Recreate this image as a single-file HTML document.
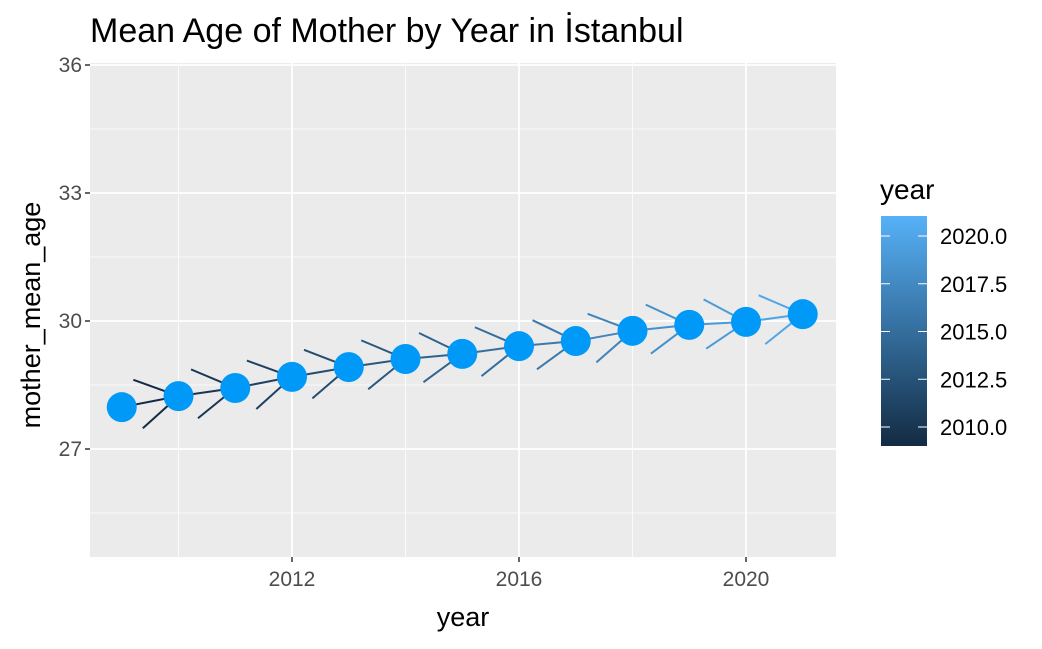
<!DOCTYPE html>
<html><head><meta charset="utf-8"><style>
body{margin:0;background:#fff;font-family:"Liberation Sans",Arial,sans-serif}
</style></head><body>
<svg id="c" width="1042" height="644" xmlns="http://www.w3.org/2000/svg">
<defs><linearGradient id="lg" x1="0" y1="1" x2="0" y2="0"><stop offset="0" stop-color="#132B43"/><stop offset="1" stop-color="#56B1F7"/></linearGradient></defs>
<text x="90" y="42" font-size="34" fill="#000">Mean Age of Mother by Year in İstanbul</text>
<rect x="90" y="63" width="746" height="494" fill="#EBEBEB"/>
<g id="grid"></g><g id="marks"></g><g id="axes"></g>
<text x="463" y="626" font-size="27" text-anchor="middle">year</text>
<text transform="translate(40,315) rotate(-90)" font-size="27" text-anchor="middle">mother_mean_age</text>
<text x="880" y="199" font-size="28">year</text>
<rect x="881" y="216" width="46" height="230" fill="url(#lg)"/>
<g id="leg"></g>
</svg>
<script>
const years=[2009,2010,2011,2012,2013,2014,2015,2016,2017,2018,2019,2020,2021];
const ages=[27.98,28.24,28.43,28.69,28.92,29.11,29.23,29.41,29.53,29.77,29.91,29.98,30.16];
const xTicks=[2012,2016,2020];
const xMinor=[2010,2014,2018];
const yTicks=[27,30,33,36];
const yMinor=[25.5,28.5,31.5,34.5];
const legTicks=[2010,2012.5,2015,2017.5,2020];
const NS="http://www.w3.org/2000/svg";
const L=90,R=836,T=63,B=557;
const X=v=>292+(v-2012)*56.75;
const Y=v=>321-(v-30)*42.667;
const C=v=>{const t=Math.max(0,Math.min(1,(v-2009)/12));const a=[0x13,0x2B,0x43],b=[0x56,0xB1,0xF7];return 'rgb('+a.map((c,i)=>Math.round(c+(b[i]-c)*t)).join(',')+')';};
function mk(p,tag,at){const e=document.createElementNS(NS,tag);for(const k in at)e.setAttribute(k,at[k]);document.getElementById(p).appendChild(e);return e;}
xMinor.forEach(v=>{const e=mk('grid','line',{x1:X(v),x2:X(v),y1:T,y2:B,stroke:'#fff','stroke-width':0.8});});
yMinor.forEach(v=>{const e=mk('grid','line',{x1:L,x2:R,y1:Y(v),y2:Y(v),stroke:'#fff','stroke-width':0.8});});
xTicks.forEach(v=>{const e=mk('grid','line',{x1:X(v),x2:X(v),y1:T,y2:B,stroke:'#fff','stroke-width':1.8});
 const t=mk('axes','line',{x1:X(v),x2:X(v),y1:B,y2:B+5,stroke:'#333','stroke-width':1.5});
 const l=mk('axes','text',{x:X(v),y:B+29,'font-size':21,fill:'#4D4D4D','text-anchor':'middle'});l.textContent=v;});
yTicks.forEach(v=>{const e=mk('grid','line',{x1:L,x2:R,y1:Y(v),y2:Y(v),stroke:'#fff','stroke-width':1.8});
 const t=mk('axes','line',{x1:L-5,x2:L,y1:Y(v),y2:Y(v),stroke:'#333','stroke-width':1.5});
 const l=mk('axes','text',{x:L-8,y:Y(v)+7,'font-size':21,fill:'#4D4D4D','text-anchor':'end'});l.textContent=v;});
for(let i=1;i<years.length;i++){
 const x0=X(years[i-1]),y0=Y(ages[i-1]),x1=X(years[i]),y1=Y(ages[i]);const col=C(years[i-1]);
 const s=mk('marks','line',{x1:x0,y1:y0,x2:x1,y2:y1,stroke:col,'stroke-width':2});
 const ang=Math.atan2(y0-y1,x0-x1),len=48;
 [-0.54,0.54].forEach(d=>{const a=mk('marks','line',{x1:x1,y1:y1,x2:x1+len*Math.cos(ang+d),y2:y1+len*Math.sin(ang+d),stroke:col,'stroke-width':2});});
}
years.forEach((v,i)=>{const p=mk('marks','circle',{cx:X(v),cy:Y(ages[i]),r:15,fill:'#0199F7'});});
const LY=v=>427-(v-2010)*19.1;
legTicks.forEach(v=>{const y=LY(v);
 const a=mk('leg','line',{x1:881,x2:890,y1:y,y2:y,stroke:'#fff','stroke-width':1});
 const b=mk('leg','line',{x1:918,x2:927,y1:y,y2:y,stroke:'#fff','stroke-width':1});
 const t=mk('leg','text',{x:940,y:y+8,'font-size':22,fill:'#000'});t.textContent=v.toFixed(1);});
</script>
</body></html>
